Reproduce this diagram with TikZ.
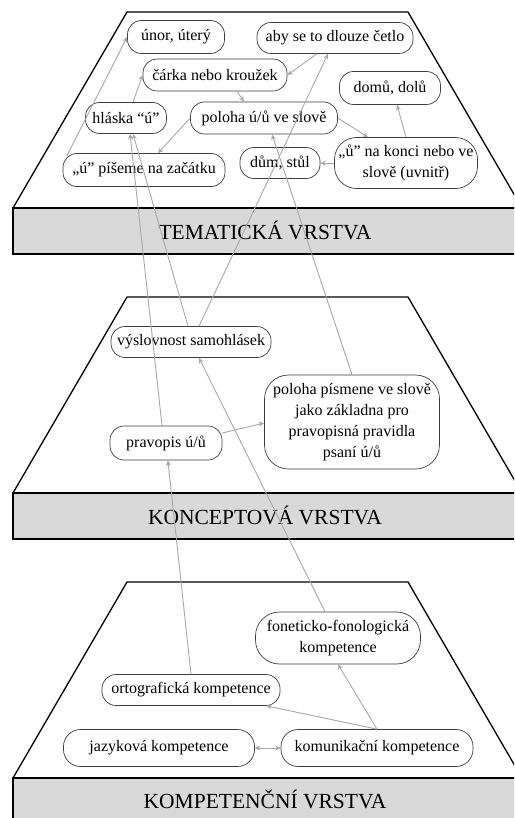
\documentclass[tikz,border=0pt]{standalone}
\usepackage{fontspec}
\setmainfont{Liberation Serif}
\usetikzlibrary{arrows.meta,calc}
\definecolor{linkgray}{HTML}{A8A8A8}
\definecolor{rimgray}{HTML}{3C3C3C}
\definecolor{bandgray}{HTML}{D9D9D9}
\begin{document}
\begin{tikzpicture}[x=1pt,y=-1pt,
  lk/.tip={Stealth[length=5.5pt,width=5pt]},
  bubble/.style={draw=rimgray, line width=0.7pt, fill=white, rounded corners=14pt,
    align=center, inner sep=0pt, font=\fontsize{16}{21}\selectfont},
  link/.style={draw=linkgray, line width=0.9pt, -lk},
  biglink/.style={draw=linkgray, line width=0.9pt, lk-lk},
  plate/.style={draw=black, line width=1.3pt, fill=white, line join=miter},
  band/.style={draw=black, line width=1.3pt, fill=bandgray},
  bandtext/.style={font=\fontsize{21.5}{25}\selectfont}
]
\useasboundingbox (0,0) rectangle (514,818);
\clip (0,0) rectangle (514,818);

% three stacked layers: a plate seen in perspective and its labelled front band
\foreach \t in {12,297,582}{
  \draw[plate] (127,\t) -- (408,\t) -- (522,\t+196) -- (13,\t+196) -- cycle;
  \draw[band] (13,\t+196) rectangle (540,\t+242);
}
\node[bandtext] (lay1) at (265,230) {TEMATICKÁ VRSTVA};
\node[bandtext] (lay2) at (265,515) {KONCEPTOVÁ VRSTVA};
\node[bandtext] (lay3) at (265,799) {KOMPETENČNÍ VRSTVA};

% thematic layer
\node[bubble, minimum width=97pt, minimum height=33pt] (unor) at (176,37) {únor, úterý};
\node[bubble, minimum width=156pt, minimum height=31pt] (aby) at (335,38) {aby se to dlouze četlo};
\node[bubble, minimum width=144pt, minimum height=32pt] (carka) at (215,75) {čárka nebo kroužek};
\node[bubble, minimum width=101pt, minimum height=33pt] (domu) at (390,88) {domů, dolů};
\node[bubble, minimum width=81pt, minimum height=31pt] (hlaska) at (126,118) {hláska “ú”};
\node[bubble, minimum width=147pt, minimum height=32pt] (polu) at (264,118) {poloha ú/ů ve slově};
\node[bubble, minimum width=162pt, minimum height=33pt] (pis) at (144,170) {„ú” píšeme na začátku};
\node[bubble, minimum width=80pt, minimum height=31pt] (dum) at (280,163) {dům, stůl};
\node[bubble, minimum width=143pt, minimum height=51pt, rounded corners=22pt] (konci) at (406,163) {„ů” na konci nebo ve\\slově (uvnitř)};

% conceptual layer
\node[bubble, minimum width=160pt, minimum height=31pt] (vys) at (191,342) {výslovnost samohlásek};
\node[bubble, minimum width=112pt, minimum height=34pt] (prav) at (166,443) {pravopis ú/ů};
\node[bubble, minimum width=175pt, minimum height=94pt, rounded corners=24pt] (polpis) at (352,422)
  {poloha písmene ve slově\\jako základna pro\\pravopisná pravidla\\psaní ú/ů};

% competence layer
\node[bubble, minimum width=165pt, minimum height=52pt, rounded corners=24pt] (fon) at (338,638) {foneticko-fonologická\\kompetence};
\node[bubble, minimum width=178pt, minimum height=31pt] (ort) at (191,690) {ortografická kompetence};
\node[bubble, minimum width=191pt, minimum height=37pt, rounded corners=17pt] (jaz) at (159,748) {jazyková kompetence};
\node[bubble, minimum width=192pt, minimum height=37pt, rounded corners=17pt] (kom) at (377,748) {komunikační kompetence};

% links within the competence layer
\draw[link] (kom.north) -- (ort);
\draw[link] (kom.north) -- (fon.south);
\draw[biglink] (jaz) -- (kom);

% links between layers
\draw[link] (ort.north) -- (prav);
\draw[link] ($(fon.north)+(-13,0)$) -- ($(vys.south)+(8,0)$);
\draw[link] ($(prav.east)+(0,-10)$) -- ($(polpis.west)+(0,1)$);
\draw[link] ($(prav.north)+(-4,0)$) -- ($(hlaska.south)+(4,0)$);
\draw[link] ($(vys.north)+(-3,0)$) -- ($(hlaska.south)+(7,0)$);
\draw[link] ($(vys.north)+(8,0)$) -- ($(aby.south)+(-7,0)$);
\draw[link] (polpis.north) -- ($(polu.south)+(8,0)$);

% links within the thematic layer
\draw[link] ($(pis.north west)+(4,3)$) -- (unor.west);
\draw[link] ($(hlaska.north)+(7,0)$) -- (carka.west);
\draw[link] ($(carka.south)+(22,0)$) -- ($(polu.north)+(-20,0)$);
\draw[link] ($(aby.south)+(-18,0)$) -- (carka.east);
\draw[link] (polu.west) -- ($(pis.north)+(14,0)$);
\draw[link] (polu.east) -- ($(konci.north)+(-38,0)$);
\draw[link] (konci.north) -- ($(domu.south)+(7,0)$);
\draw[link] (konci.west) -- (dum.east);
\end{tikzpicture}
\end{document}
